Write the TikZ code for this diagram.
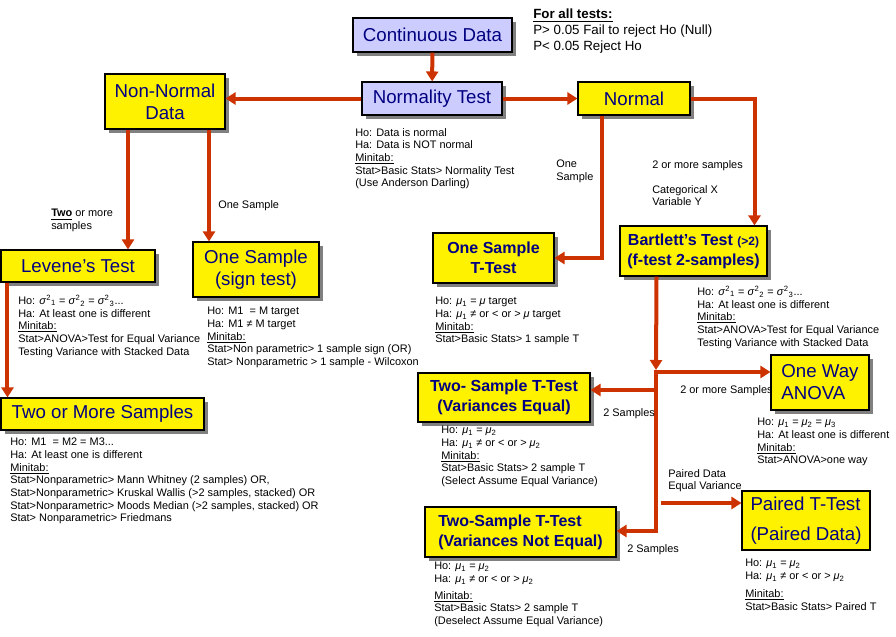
\documentclass[tikz,border=0pt]{standalone}
\usepackage{fontspec}
\setmainfont{Liberation Sans}
\usepackage{tikz}
\usetikzlibrary{arrows.meta,shadows}
\definecolor{flowred}{RGB}{204,51,0}
\definecolor{boxnavy}{RGB}{0,0,128}
\definecolor{testlav}{RGB}{204,204,255}

\begin{document}
\begin{tikzpicture}[x=0.75pt, y=-0.75pt, >=Latex,
    plainbox/.style={rectangle, draw=black, line width=0.8pt, fill=yellow, text=boxnavy, align=center, inner sep=0pt, font=\fontsize{14}{16.5}\selectfont},
    ybox/.style={plainbox, drop shadow={shadow xshift=3pt, shadow yshift=-3pt, fill=black!50, opacity=1}},
    bbox/.style={ybox, font=\fontsize{12}{15}\selectfont\bfseries},
    lbox/.style={ybox, fill=testlav},
    note/.style={anchor=north west, align=left, inner sep=0pt, font=\fontsize{8.2}{9.5}\selectfont},
    flow/.style={-{Triangle[width=9pt,length=7.5pt]}, line width=3pt, draw=flowred},
    flowline/.style={line width=3pt, draw=flowred}]
    \useasboundingbox (0,0) rectangle (896,636);

    % boxes
    \node [lbox, minimum width=119.25pt, minimum height=25.5pt] (cont) at (432.5,35) {Continuous Data};
    \node [lbox, minimum width=105pt, minimum height=24.75pt] (normtest) at (432,98.5) {Normality Test};
    \node [ybox, minimum width=84pt, minimum height=24.75pt] (normal) at (634,98.5) {Normal};
    \node [ybox, minimum width=90pt, minimum height=41.25pt] (nonnorm) at (165,101.5) {Non-Normal\\Data};
    \node [ybox, minimum width=115.5pt, minimum height=24pt] (levene) at (78,266) {Levene’s Test};
    \node [ybox, minimum width=94.5pt, minimum height=41.25pt] (signtest) at (256,269.5) {One Sample\\(sign test)};
    \node [ybox, minimum width=152.25pt, minimum height=24pt] (twomore) at (102.5,414) {Two or More Samples};
    \node [bbox, minimum width=90.75pt, minimum height=37.5pt] (onet) at (493.5,258) {One Sample\\T-Test};
    \node [bbox, minimum width=110.25pt, minimum height=37.5pt] (bart) at (693.5,251) {Bartlett’s Test {\fontsize{9}{10}\selectfont(>2)}\\(f-test 2-samples)};
    \node [bbox, minimum width=129pt, minimum height=36.75pt] (twoeq) at (504,397.5) {Two- Sample T-Test\\(Variances Equal)};
    \node [ybox, align=left, minimum width=73.5pt, minimum height=41.25pt] (anova) at (820,382.5) {One Way\\ANOVA};
    \node [plainbox, align=left, minimum width=96pt, minimum height=44.25pt, font=\fontsize{14}{22}\selectfont] (paired) at (806,520.5) {Paired T-Test\\(Paired Data)};
    \node [bbox, align=left, minimum width=143.25pt, minimum height=37.5pt] (twoneq) at (520.5,532) {Two-Sample T-Test\\(Variances Not Equal)};

    % connectors
    \draw [flow] (cont) -- (normtest);
    \draw [flow] (normtest.west) -- (normtest.west -| nonnorm.east);
    \draw [flow] (normtest) -- (normal);
    \draw [flow] (normal.east) -| ([xshift=45.75pt]bart.north);
    \draw [flow] ([xshift=-24pt]normal.south) |- (onet.east);
    \draw [flow] ([xshift=-27.75pt]nonnorm.south) -- ([xshift=37.5pt]levene.north);
    \draw [flow] ([xshift=33pt]nonnorm.south) -- ([xshift=-35.25pt]signtest.north);
    \draw [flow] ([xshift=5.25pt]levene.south west) -- ([xshift=5.25pt]twomore.north west);

    \coordinate (split) at (656,370);
    \coordinate (splitEq) at (656,390);
    \coordinate (splitNeq) at (656,531);
    \coordinate (splitPair) at (661,503);
    \draw [flow] ([xshift=-27.75pt]bart.south) -- (split);
    \draw [flow] (split) -- (splitNeq) -- (splitNeq -| twoneq.east);
    \draw [flow] ([yshift=-1.5pt]split) -- ([yshift=-1.5pt]split -| anova.west);
    \draw [flow] (splitEq) -- (splitEq -| twoeq.east);
    \draw [flow] (splitPair) -- (splitPair -| paired.west);

    % notes and labels
    \node [note, font=\fontsize{10}{12}\selectfont] (forall) at (533,9) {\textbf{\underline{For all tests:}}\\P> 0.05 Fail to reject Ho (Null)\\P< 0.05 Reject Ho};
    \node [note] (normnote) at (355,128) {Ho: Data is normal\\Ha: Data is NOT normal\\\underline{Minitab:}\\Stat>Basic Stats> Normality Test\\(Use Anderson Darling)};
    \node [note] (oneslab) at (556,160) {One\\Sample};
    \node [note] (twoplab) at (652,160) {2 or more samples};
    \node [note] (catlab) at (652,185) {Categorical X\\Variable Y};
    \node [note] (twolab) at (51,209) {\textbf{\underline{Two}} or more\\samples};
    \node [note] (onelab) at (218,200) {One Sample};
    \node [note] (levnote) at (18,295) {Ho: \textit{σ}\textsuperscript{2}\textsubscript{1} = \textit{σ}\textsuperscript{2}\textsubscript{2} = \textit{σ}\textsuperscript{2}\textsubscript{3}...\\Ha: At least one is different\\\underline{Minitab:}\\Stat>ANOVA>Test for Equal Variance\\Testing Variance with Stacked Data};
    \node [note] (signnote) at (207,307) {Ho: M1 \ = M target\\Ha: M1 ≠ M target\\\underline{Minitab:}\\Stat>Non parametric> 1 sample sign (OR)\\Stat> Nonparametric > 1 sample - Wilcoxon};
    \node [note] (twomorenote) at (10,438) {Ho: M1 \ = M2 = M3...\\Ha: At least one is different\\\underline{Minitab:}\\Stat>Nonparametric> Mann Whitney (2 samples) OR,\\Stat>Nonparametric> Kruskal Wallis (>2 samples, stacked) OR\\Stat>Nonparametric> Moods Median (>2 samples, stacked) OR\\Stat> Nonparametric> Friedmans};
    \node [note] (onetnote) at (435,297) {Ho: \textit{μ}\textsubscript{1} = \textit{μ} target\\Ha: \textit{μ}\textsubscript{1} ≠ or < or > \textit{μ} target\\\underline{Minitab:}\\Stat>Basic Stats> 1 sample T};
    \node [note] (bartnote) at (697,286) {Ho: \textit{σ}\textsuperscript{2}\textsubscript{1} = \textit{σ}\textsuperscript{2}\textsubscript{2} = \textit{σ}\textsuperscript{2}\textsubscript{3}...\\Ha: At least one is different\\\underline{Minitab:}\\Stat>ANOVA>Test for Equal Variance\\Testing Variance with Stacked Data};
    \node [note] (anovalab) at (680,385) {2 or more Samples};
    \node [note] (eqlab) at (603,408) {2 Samples};
    \node [note] (twoeqnote) at (441,426) {Ho: \textit{μ}\textsubscript{1} = \textit{μ}\textsubscript{2}\\Ha: \textit{μ}\textsubscript{1} ≠ or < or > \textit{μ}\textsubscript{2}\\\underline{Minitab:}\\Stat>Basic Stats> 2 sample T\\(Select Assume Equal Variance)};
    \node [note] (anovanote) at (757,418) {Ho: \textit{μ}\textsubscript{1} = \textit{μ}\textsubscript{2} = \textit{μ}\textsubscript{3}\\Ha: At least one is different\\\underline{Minitab:}\\Stat>ANOVA>one way};
    \node [note] (pairlab) at (668,469) {Paired Data\\Equal Variance};
    \node [note] (neqlab) at (627,544) {2 Samples};
    \node [note] (twoneqnote) at (434,562) {Ho: \textit{μ}\textsubscript{1} = \textit{μ}\textsubscript{2}\\Ha: \textit{μ}\textsubscript{1} ≠ or < or > \textit{μ}\textsubscript{2}\\[3pt]\underline{Minitab:}\\Stat>Basic Stats> 2 sample T\\(Deselect Assume Equal Variance)};
    \node [note] (pairnote) at (745,559) {Ho: \textit{μ}\textsubscript{1} = \textit{μ}\textsubscript{2}\\Ha: \textit{μ}\textsubscript{1} ≠ or < or > \textit{μ}\textsubscript{2}\\[4pt]\underline{Minitab:}\\Stat>Basic Stats> Paired T};
\end{tikzpicture}
\end{document}
